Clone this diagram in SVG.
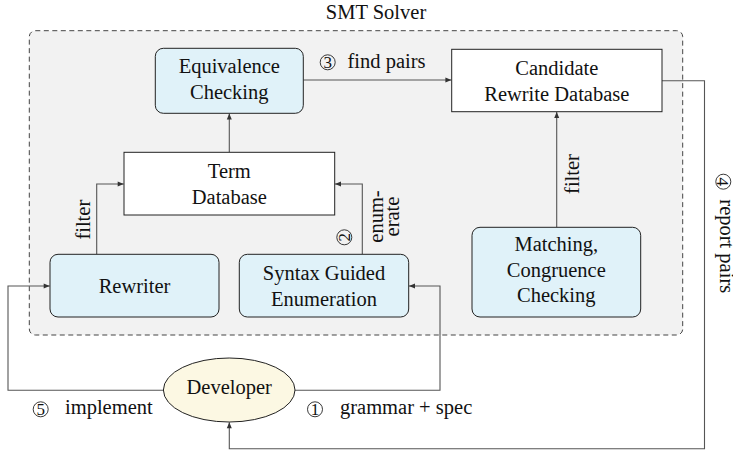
<svg xmlns="http://www.w3.org/2000/svg" width="733" height="454" viewBox="0 0 733 454">
<defs>
<style>
text{font-family:"Liberation Serif","Times New Roman",serif;font-size:20.5px;fill:#111}
.c{text-anchor:middle}
.node{stroke:#222;stroke-width:1}
.blue{fill:#e0f2f9}
.white{fill:#fff}
.conn{fill:none;stroke:#555;stroke-width:1.1}
.circ{fill:none;stroke:#222;stroke-width:0.9}
.num{font-size:17px;text-anchor:middle}
</style>
<marker id="ah" markerUnits="userSpaceOnUse" markerWidth="8" markerHeight="8" viewBox="0 0 8 8" refX="7" refY="4" orient="auto">
<path d="M1,1.5 L7,4 L1,6.5 Z" fill="#333"/>
</marker>
</defs>
<rect width="733" height="454" fill="#fff"/>
<g id="smt-solver">
<rect x="29.3" y="30.7" width="653.4" height="304.3" rx="6" fill="#f2f2f2" stroke="#444" stroke-width="1" stroke-dasharray="5,3.5"/>
<text class="c" x="376" y="18.5">SMT Solver</text>
</g>
<g id="connectors">
<path class="conn" d="M229.3,152.3 V113.6" marker-end="url(#ah)"/>
<path class="conn" d="M303.3,80 H451.4" marker-end="url(#ah)"/>
<path class="conn" d="M96.7,254.3 V184 H123.7" marker-end="url(#ah)"/>
<path class="conn" d="M362.3,254.3 V184 H335" marker-end="url(#ah)"/>
<path class="conn" d="M556.7,227.3 V112" marker-end="url(#ah)"/>
<path class="conn" d="M662,80.7 H704.5 V448.7 H229.3 V422.3" marker-end="url(#ah)"/>
<path class="conn" d="M163.3,390.3 H8 V286 H49.7" marker-end="url(#ah)"/>
<path class="conn" d="M295,390.3 H440 V286 H409" marker-end="url(#ah)"/>
<g id="label-find-pairs">
<circle class="circ" cx="327.7" cy="62.3" r="7.5"/>
<text class="num" x="327.7" y="68.3">3</text>
<text x="347.5" y="68">find pairs</text>
</g>
<g id="label-filter-left">
<text class="c" transform="translate(89.5,219.7) rotate(-90)">filter</text>
</g>
<g id="label-enumerate">
<text class="c" transform="translate(382.7,216.5) rotate(-90)">enum-</text>
<text class="c" transform="translate(399.3,216.5) rotate(-90)">erate</text>
<circle class="circ" cx="344.3" cy="237.3" r="7.5"/>
<text class="num" transform="translate(350.3,237.3) rotate(-90)">2</text>
</g>
<g id="label-filter-right">
<text class="c" transform="translate(579,174) rotate(-90)">filter</text>
</g>
<g id="label-report-pairs">
<circle class="circ" cx="723.3" cy="181.7" r="7.5"/>
<text class="num" transform="translate(717.3,181.7) rotate(90)">4</text>
<text transform="translate(719.5,199.3) rotate(90)">report pairs</text>
</g>
<g id="label-implement">
<circle class="circ" cx="40.7" cy="409.3" r="7.5"/>
<text class="num" x="40.7" y="415.3">5</text>
<text x="65" y="413.5">implement</text>
</g>
<g id="label-grammar">
<circle class="circ" cx="315" cy="409.3" r="7.5"/>
<text class="num" x="315" y="415.3">1</text>
<text x="340" y="413.5">grammar + spec</text>
</g>
</g>
<g id="equivalence-checking">
<rect class="node blue" x="155.3" y="48.3" width="148" height="65" rx="8"/>
<text class="c" x="229.3" y="73.3">Equivalence</text>
<text class="c" x="229.3" y="98.7">Checking</text>
</g>
<g id="term-database">
<rect class="node white" x="124" y="152.3" width="210.7" height="62.7"/>
<text class="c" x="229.3" y="178.3">Term</text>
<text class="c" x="229.3" y="204">Database</text>
</g>
<g id="candidate-rewrite-database">
<rect class="node white" x="451.7" y="49.3" width="210.3" height="62.4"/>
<text class="c" x="556.8" y="75">Candidate</text>
<text class="c" x="556.8" y="100.7">Rewrite Database</text>
</g>
<g id="rewriter">
<rect class="node blue" x="50" y="254.3" width="169" height="62.7" rx="8"/>
<text class="c" x="134.5" y="293">Rewriter</text>
</g>
<g id="syntax-guided-enumeration">
<rect class="node blue" x="239.3" y="254.3" width="169.4" height="62.7" rx="8"/>
<text class="c" x="324" y="280.3">Syntax Guided</text>
<text class="c" x="324" y="306">Enumeration</text>
</g>
<g id="matching-congruence-checking">
<rect class="node blue" x="472" y="227.3" width="168.7" height="89.7" rx="8"/>
<text class="c" x="556.3" y="251.3">Matching,</text>
<text class="c" x="556.3" y="277">Congruence</text>
<text class="c" x="556.3" y="301.5">Checking</text>
</g>
<g id="developer">
<ellipse class="node" cx="229.2" cy="390" rx="65.8" ry="32" fill="#fcf8e3"/>
<text class="c" x="229.2" y="394">Developer</text>
</g>
</svg>
